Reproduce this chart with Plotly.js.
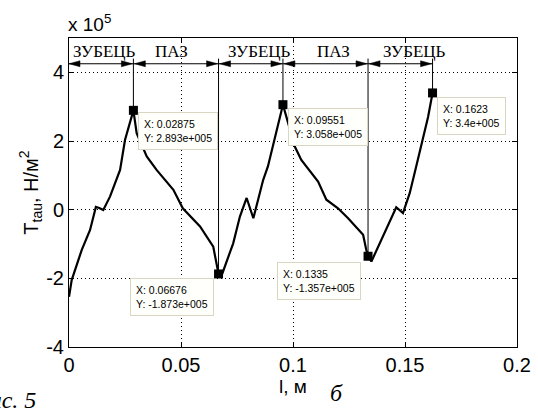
<!DOCTYPE html>
<html>
<head>
<meta charset="utf-8">
<script src="https://cdn.plot.ly/plotly-3.0.1.min.js"></script>
<style>html,body{margin:0;padding:0;background:#fff;}#chart{width:538px;height:408px;}</style>
</head>
<body>
<div id="chart"></div>
<script>
// Curve l (m) and T_tau (x 10^5 N/m^2)
var curveL = [0, 0.0012, 0.0035, 0.0057, 0.0094, 0.012, 0.0135, 0.0153, 0.0183, 0.0228, 0.025, 0.0275, 0.02875,
  0.0302, 0.0347, 0.0391, 0.0466, 0.0508, 0.0585, 0.0644, 0.066, 0.06676,
  0.0685, 0.0733, 0.0763, 0.0793, 0.0823, 0.0867, 0.0888, 0.092, 0.09551,
  0.0975, 0.1008, 0.1037, 0.1112, 0.1149, 0.1201, 0.1246, 0.1313, 0.1327, 0.1335,
  0.135, 0.1394, 0.1461, 0.1491, 0.1521, 0.155, 0.1576, 0.1603, 0.1623];
var curveT = [-2.54, -2.05, -1.6, -1.17, -0.59, 0.08, 0.05, -0.01, 0.38, 1.16, 2.03, 2.6, 2.893,
  2.23, 1.55, 1.16, 0.58, 0.04, -0.49, -1.08, -1.56, -1.873,
  -1.85, -0.98, -0.2, 0.34, -0.25, 0.87, 1.26, 2.1, 3.058,
  2.6, 1.84, 1.45, 0.82, 0.29, 0.04, -0.25, -0.73, -1.17, -1.357,
  -1.51, -0.88, 0.07, -0.10, 0.48, 1.26, 1.94, 2.7, 3.4];
// Data tips
var tipX = [0.02875, 0.06676, 0.09551, 0.1335, 0.1623];
var tipY = [2.893e5, -1.873e5, 3.058e5, -1.357e5, 3.4e5];
// Zones
var zoneLabels = ['ЗУБЕЦЬ', 'ПАЗ', 'ЗУБЕЦЬ', 'ПАЗ', 'ЗУБЕЦЬ'];
var xTicks = [0, 0.05, 0.1, 0.15, 0.2];
var xTickText = ['0', '0.05', '0.1', '0.15', '0.2'];
var yTicks = [-4, -2, 0, 2, 4];
var yTickText = ['-4', '-2', '0', '2', '4'];

var SCALE = 1e5;
var arrowY = 4.25, labelY = 4.62, vTop = 4.4;
// style tables
var labelShift = [3, -4, 9, 8, 14];
var tipStyle = [
  {xa: 'left', xs: 5, ys: -2},
  {xa: 'right', xs: -5, ys: -4},
  {xa: 'left', xs: 5, ys: -3},
  {xa: 'right', xs: -7, ys: -6},
  {xa: 'left', xs: 4, ys: -4}
];

function matlabExp(v) {
  var s = v.toExponential();
  return s.replace(/e([+-])(\d+)$/, function (m, sg, d) { while (d.length < 3) d = '0' + d; return 'e' + sg + d; });
}

var traces = [
  {x: curveL, y: curveT, mode: 'lines', line: {color: '#000', width: 2.2}, hoverinfo: 'none', showlegend: false},
  {x: tipX, y: tipY.map(function (v) { return v / SCALE; }), mode: 'markers',
   marker: {symbol: 'square', size: 9, color: '#000'}, hoverinfo: 'none', showlegend: false}
];

var bounds = [0].concat(tipX);
var shapes = [];
var annotations = [];
shapes.push({type: 'line', xref: 'x', yref: 'y', x0: bounds[0], x1: bounds[bounds.length - 1], y0: arrowY, y1: arrowY,
  line: {color: '#000', width: 1}});
tipX.forEach(function (x, i) {
  shapes.push({type: 'line', xref: 'x', yref: 'y', x0: x, x1: x, y0: vTop, y1: tipY[i] / SCALE, line: {color: '#000', width: 1}});
});
for (var i = 0; i < zoneLabels.length; i++) {
  var a = bounds[i], b = bounds[i + 1];
  shapes.push({type: 'path', xref: 'x', yref: 'y', xsizemode: 'pixel', ysizemode: 'pixel', xanchor: a, yanchor: arrowY,
    path: (i === 0 ? 'M0,0 L11,3 L11,-3 Z' : 'M1,0 L12,3 L12,-3 Z'), fillcolor: '#000', line: {color: '#000', width: 0.5}});
  shapes.push({type: 'path', xref: 'x', yref: 'y', xsizemode: 'pixel', ysizemode: 'pixel', xanchor: b, yanchor: arrowY,
    path: 'M-1,0 L-12,3 L-12,-3 Z', fillcolor: '#000', line: {color: '#000', width: 0.5}});
  annotations.push({x: (a + b) / 2, y: labelY, xref: 'x', yref: 'y', text: zoneLabels[i], showarrow: false,
    xshift: labelShift[i], font: {family: 'Liberation Serif, Times New Roman, serif', size: 17, color: '#000'}});
}
tipX.forEach(function (x, i) {
  var st = tipStyle[i];
  annotations.push({x: x, y: tipY[i] / SCALE, xref: 'x', yref: 'y', showarrow: false,
    text: 'X: ' + x + '<br>Y: ' + matlabExp(tipY[i]), align: 'left',
    xanchor: st.xa, yanchor: 'top', xshift: st.xs, yshift: st.ys,
    bgcolor: '#fffffb', bordercolor: '#d9d6c4', borderwidth: 1, borderpad: 5,
    font: {family: 'Liberation Sans, Arial, sans-serif', size: 10.5, color: '#000'}});
});
annotations.push({x: 0, y: 1, xref: 'paper', yref: 'paper', xanchor: 'left', yanchor: 'bottom', yshift: 1, xshift: -3,
  showarrow: false, text: 'x 10<sup>5</sup>', font: {family: 'Liberation Sans, Arial, sans-serif', size: 19, color: '#000'}});
annotations.push({x: 0.596, y: -0.15, xref: 'paper', yref: 'paper', xanchor: 'center', yanchor: 'middle', showarrow: false,
  text: '<i>б</i>', font: {family: 'Liberation Serif, Times New Roman, serif', size: 24, color: '#000'}});
annotations.push({x: -0.07, y: -0.172, xref: 'paper', yref: 'paper', xanchor: 'right', yanchor: 'middle', showarrow: false,
  text: '<i>Рис. 5</i>', font: {family: 'Liberation Serif, Times New Roman, serif', size: 24, color: '#000'}});

var axisFont = {family: 'Liberation Sans, Arial, sans-serif', size: 20, color: '#000'};
var layout = {
  width: 538, height: 408,
  margin: {l: 69, r: 21, t: 38, b: 61},
  paper_bgcolor: '#fff', plot_bgcolor: '#fff',
  showlegend: false,
  xaxis: {range: [0, 0.2], tickvals: xTicks, ticktext: xTickText, ticks: 'inside', ticklen: 5, tickcolor: '#000',
    showline: true, linecolor: '#000', linewidth: 1, mirror: 'ticks', showgrid: true, gridcolor: '#000', griddash: '1px,3px',
    gridwidth: 1, zeroline: false, tickfont: axisFont,
    title: {text: 'l, м', font: {family: 'Liberation Sans, Arial, sans-serif', size: 19, color: '#000'}, standoff: 0}},
  yaxis: {range: [-4, 5], tickvals: yTicks, ticktext: yTickText, ticks: 'inside', ticklen: 5, tickcolor: '#000',
    showline: true, linecolor: '#000', linewidth: 1, mirror: 'ticks', showgrid: true, gridcolor: '#000', griddash: '1px,3px',
    gridwidth: 1, zeroline: false, tickfont: axisFont,
    title: {text: 'T<sub>tau</sub>, Н/м<sup>2</sup>', font: {family: 'Liberation Sans, Arial, sans-serif', size: 20, color: '#000'}, standoff: 2}},
  shapes: shapes,
  annotations: annotations
};
Plotly.newPlot('chart', traces, layout, {displayModeBar: false, staticPlot: true});
</script>
</body>
</html>
